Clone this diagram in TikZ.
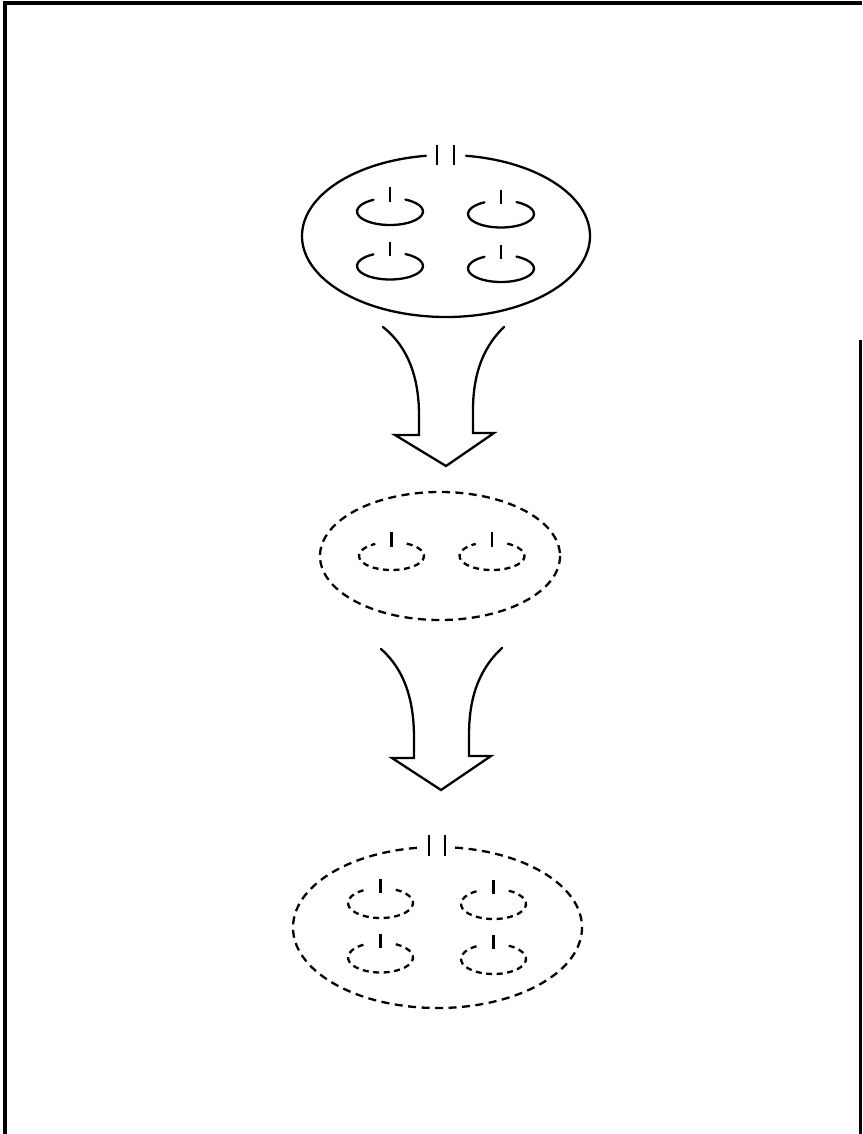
\documentclass[tikz,border=0pt]{standalone}
\usetikzlibrary{calc}
\tikzset{
  outl/.style={line width=2.3pt,line cap=round,line join=miter},
  dsh/.style={outl,line cap=butt,dash pattern=on 8pt off 5.5pt},
  dshsm/.style={outl,line cap=butt,dash pattern=on 6pt off 4.5pt},
  pin/.style={line width=2.6pt},
  frm/.style={line width=4pt},
}

\begin{document}
\begin{tikzpicture}[x=1pt,y=-1pt]
  \useasboundingbox (0,0) rectangle (862,1134);
  % frame
  \draw[frm] (5,1134) -- (5,3.5) -- (862,3.5);
  \draw[line width=2.5pt] (860.5,340) -- (860.5,1134);

  % top cell, solid
  \coordinate (topC) at (446,236);
  \draw[outl] (topC) ++({144*cos(-82)},{81*sin(-82)})
    arc[start angle=-82,end angle=262,x radius=144,y radius=81];
  \draw[pin] (437,145) -- (437,165);
  \draw[pin] (454,145) -- (454,165);
  \foreach \cx/\cy in {390/211.5,501/214,390/266,501/268.5}{
    \draw[outl] (\cx,\cy) ++({33*cos(-62)},{13.5*sin(-62)})
      arc[start angle=-62,end angle=240,x radius=33,y radius=13.5];
    \draw[pin] (\cx,\cy-24) -- (\cx,\cy-10);
  }

  % first arrow
  \draw[outl] (383,327) .. controls (412,350) and (419,385) .. (419,415)
    -- (419,435) -- (395,435) -- (446,466) -- (494,433) -- (473,433)
    -- (473,410) .. controls (473,380) and (480,350) .. (504,327);

  % middle cell, dashed
  \coordinate (midC) at (440,556);
  \draw[dsh] (midC) ellipse[x radius=120,y radius=64];
  \foreach \cx/\cy in {391.5/556,492/556}{
    \draw[dshsm] (\cx,\cy) ++({32.5*cos(-62)},{14*sin(-62)})
      arc[start angle=-62,end angle=240,x radius=32.5,y radius=14];
    \draw[pin] (\cx,\cy-24) -- (\cx,\cy-9);
  }

  % second arrow
  \draw[outl] (381,649) .. controls (407,672) and (414,705) .. (414,738)
    -- (414,758) -- (392,758) -- (441,790) -- (491,756) -- (469,756)
    -- (469,735) .. controls (469,703) and (476,672) .. (502,648);

  % bottom cell, dashed
  \coordinate (botC) at (437.5,927.5);
  \draw[dsh] (botC) ++({144.5*cos(-83)},{80.5*sin(-83)})
    arc[start angle=-83,end angle=262,x radius=144.5,y radius=80.5];
  \draw[pin] (429,835) -- (429,856);
  \draw[pin] (445,835) -- (445,856);
  \foreach \cx/\cy in {380.5/903,493.5/904,380.5/957.5,493.5/959}{
    \draw[dshsm] (\cx,\cy) ++({32.5*cos(-62)},{15*sin(-62)})
      arc[start angle=-62,end angle=240,x radius=32.5,y radius=15];
    \draw[pin] (\cx,\cy-24) -- (\cx,\cy-10);
  }
\end{tikzpicture}
\end{document}
